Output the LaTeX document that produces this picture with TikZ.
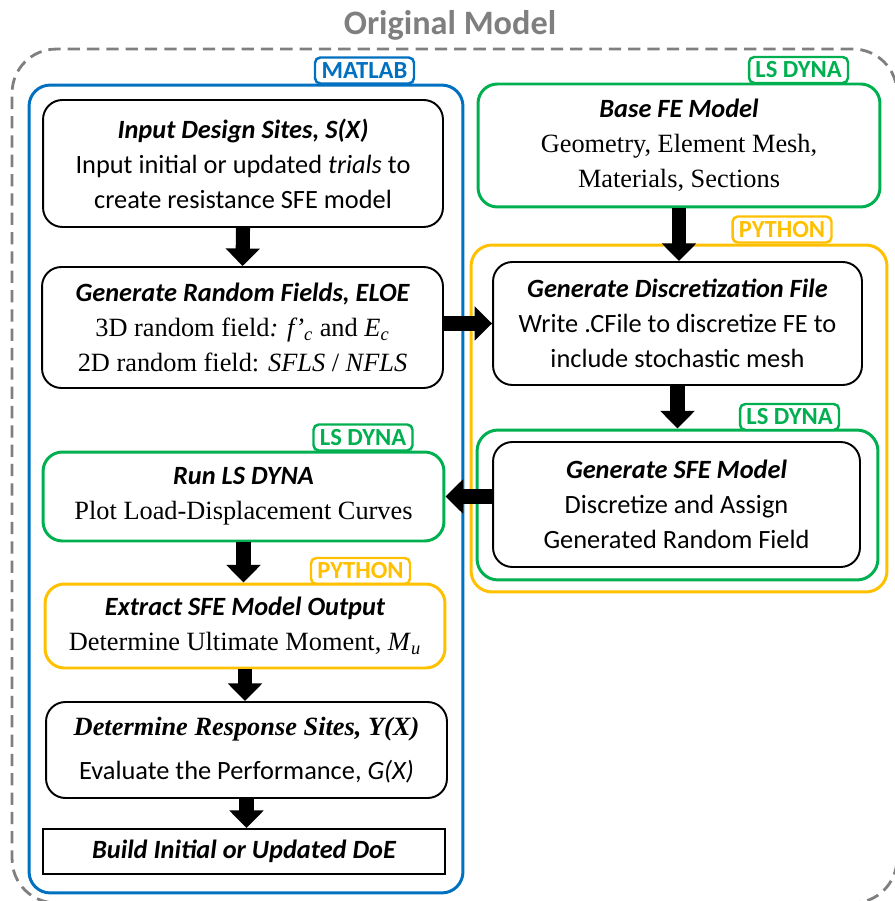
\documentclass[tikz,border=0pt]{standalone}
\usepackage{fontspec}
\setmainfont{Liberation Serif}
\newfontfamily\calibri{Carlito}
\usetikzlibrary{arrows.meta}
\definecolor{matblue}{HTML}{0070C0}
\definecolor{dynagreen}{HTML}{00B050}
\definecolor{pyyellow}{HTML}{FFC000}
\definecolor{titlegray}{HTML}{7F7F7F}
\newcommand\hd[1]{{\calibri\bfseries\itshape #1}}
\begin{document}
\begin{tikzpicture}[x=0.02cm,y=-0.02cm,
    proc/.style={draw,line width=1.1pt,rounded corners=11pt,align=center,inner sep=2pt,
        font=\fontsize{15}{20}\selectfont},
    calbody/.style={font=\calibri\fontsize{15}{20}\selectfont},
    frame/.style={draw,line width=1.7pt,rounded corners=12pt,inner sep=0pt},
    tag/.style={draw,fill=white,line width=1.4pt,rounded corners=3pt,minimum width=1.98cm,
        minimum height=0.52cm,inner sep=0pt,font=\calibri\bfseries\fontsize{14}{14}\selectfont},
    flow/.style={line width=8pt,-{Triangle[width=19pt,length=10pt]}}]
    \useasboundingbox (0,0) rectangle (894,901);
    %\draw[gray!30] (0,0) grid[step=50] (894,901);
    \node[font=\calibri\bfseries\fontsize{19.5}{19.5}\selectfont,text=titlegray] (title) at (450,25) {Original Model};
    \node[draw=titlegray,line width=1.6pt,dash pattern=on 7pt off 4pt,rounded corners=25pt,
        minimum width=17.7cm,minimum height=17.08cm,inner sep=0pt] (orig) at (454.5,476) {};
    % tool frames
    \node[frame,draw=matblue,minimum width=8.68cm,minimum height=16.16cm] (matlab) at (246,489) {};
    \node[frame,draw=pyyellow,minimum width=8.32cm,minimum height=6.94cm] (py) at (679,418.5) {};
    \node[frame,draw=dynagreen,minimum width=8.02cm,minimum height=3cm] (lsd) at (677.5,505) {};
    \node[tag,draw=matblue,text=matblue] (tmat) at (364.5,70.5) {MATLAB};
    \node[tag,draw=dynagreen,text=dynagreen] (tbase) at (798.5,70) {LS DYNA};
    \node[tag,draw=pyyellow,text=pyyellow] (tpy) at (782,229.5) {PYTHON};
    \node[tag,draw=dynagreen,text=dynagreen] (tlsd) at (789.5,417) {LS DYNA};
    \node[tag,draw=dynagreen,text=dynagreen] (trun) at (363,437.5) {LS DYNA};
    \node[tag,draw=pyyellow,text=pyyellow] (text) at (360.5,571) {PYTHON};
    % left column
    \node[proc,calbody,minimum width=8cm,minimum height=2.54cm] (inp) at (243,163.5)
        {\hd{Input Design Sites, S(X)}\\ Input initial or updated \textit{trials} to\\
        create resistance SFE model};
    \node[proc,minimum width=8.02cm,minimum height=2.42cm] (rnd) at (242.5,327.5)
        {\hd{Generate Random Fields, ELOE}\\
        3D random field\textit{:} \textit{f\kern.5pt’}\textsubscript{\textit{c}} and \textit{E}\textsubscript{\textit{c}}\\
        2D random field: \textit{SFLS} / \textit{NFLS}};
    \node[proc,draw=dynagreen,line width=1.7pt,minimum width=8.02cm,minimum height=1.78cm] (run) at (243.5,496.5)
        {\hd{Run LS DYNA}\\ Plot Load-Displacement Curves};
    \node[proc,draw=pyyellow,line width=1.7pt,minimum width=8cm,minimum height=1.68cm] (ext) at (245,626)
        {\hd{Extract SFE Model Output}\\ Determine Ultimate Moment, \textit{M}\textsubscript{\textit{u}}};
    \node[proc,minimum width=8.02cm,minimum height=1.92cm] (det) at (246.5,750)
        {\textbf{\textit{Determine Response Sites, Y(X)}}\\[5pt] \calibri Evaluate the Performance, \textit{G(X)}};
    \node[proc,rounded corners=0pt,minimum width=8.04cm,minimum height=0.9cm] (doe) at (244,851.5)
        {\hd{Build Initial or Updated DoE}};
    % right column
    \node[proc,draw=dynagreen,line width=1.7pt,minimum width=8.04cm,minimum height=2.46cm] (base) at (679,145.5)
        {\hd{Base FE Model}\\ Geometry, Element Mesh,\\ Materials, Sections};
    \node[proc,calbody,minimum width=7.38cm,minimum height=2.46cm] (disc) at (677.5,323.5)
        {\hd{Generate Discretization File}\\ Write .CFile to discretize FE to\\ include stochastic mesh};
    \node[proc,calbody,minimum width=7.34cm,minimum height=2.5cm] (sfe) at (676.5,504.5)
        {\hd{Generate SFE Model}\\ Discretize and Assign\\ Generated Random Field};
    % flow
    \draw[flow] (inp.south) -- (rnd.north);
    \draw[flow] (rnd.east |- disc.west) -- (disc.west);
    \draw[flow] (base.south) -- (base.south |- disc.north);
    \draw[flow] (disc.south) -- (disc.south |- lsd.north);
    \draw[flow] (sfe.west |- run.east) -- (run.east);
    \draw[flow] (run.south) -- (run.south |- ext.north);
    \draw[flow] (ext.south) -- (ext.south |- det.north);
    \draw[flow] (det.south) -- (det.south |- doe.north);
\end{tikzpicture}
\end{document}
